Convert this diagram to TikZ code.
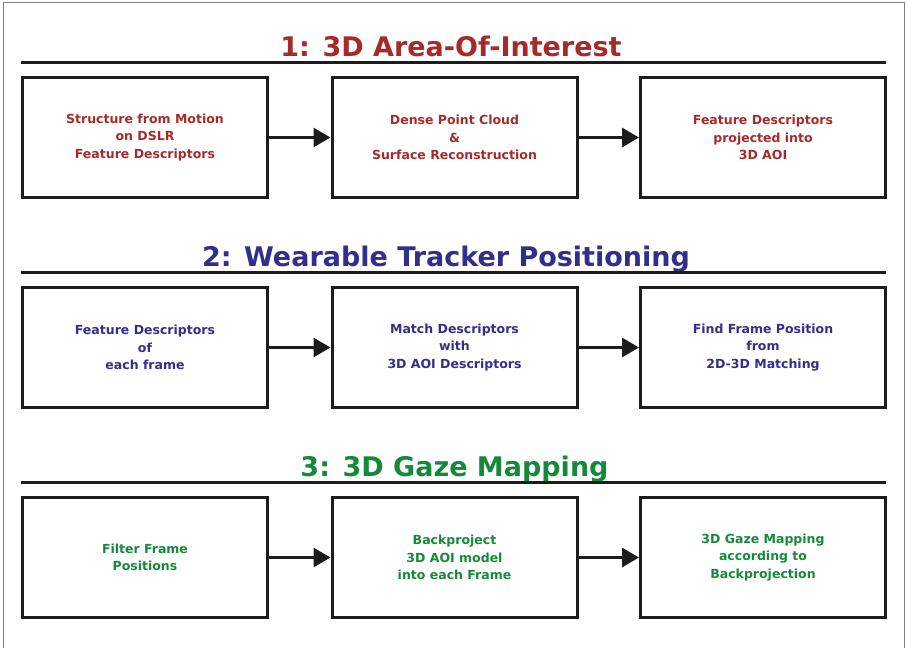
\documentclass[tikz,border=0pt]{standalone}
\usepackage{fontspec}
\setmainfont{DejaVu Sans}
\usetikzlibrary{arrows.meta}
\definecolor{cred}{RGB}{166,42,42}
\definecolor{cblue}{RGB}{50,46,140}
\definecolor{cgreen}{RGB}{20,137,58}
\definecolor{boxline}{RGB}{28,28,28}
\tikzset{
  stepbox/.style={draw=boxline, line width=3pt, minimum width=245pt, minimum height=120pt,
    inner sep=0pt, align=center, font=\bfseries\fontsize{12.5}{17.5}\selectfont},
  sectitle/.style={anchor=base, inner sep=0pt, font=\bfseries\fontsize{27}{32}\selectfont},
  secline/.style={line width=3pt, draw=boxline},
  flow/.style={line width=3pt, draw=boxline, -{Triangle[length=17pt,width=19pt]}},
  frameline/.style={draw=gray, line width=1pt}
}
\begin{document}
\begin{tikzpicture}[x=1pt,y=-1pt]
\useasboundingbox (0,0) rectangle (906,648);
% outer frame (open at bottom)
\draw[frameline] (3.5,648) -- (3.5,2.5) -- (904.5,2.5) -- (904.5,648);

% Section 1
\node[sectitle, text=cred] (t1) at (451,56.5) {1: 3D Area-Of-Interest};
\coordinate (l1a) at (21,62);
\coordinate (l1b) at (886,62);
\draw[secline] (l1a) -- (l1b);
\node[stepbox, text=cred] (a1) at (145,137.5) {Structure from Motion\\on DSLR\\Feature Descriptors};
\node[stepbox, text=cred] (a2) at (454.5,137.5) {Dense Point Cloud\\\&\\Surface Reconstruction};
\node[stepbox, text=cred] (a3) at (763,137.5) {Feature Descriptors\\projected into\\3D AOI};
\draw[flow] (a1.east) -- (a2.west);
\draw[flow] (a2.east) -- (a3.west);

% Section 2
\node[sectitle, text=cblue] (t2) at (446,266.5) {2: Wearable Tracker Positioning};
\coordinate (l2a) at (21,272);
\coordinate (l2b) at (886,272);
\draw[secline] (l2a) -- (l2b);
\node[stepbox, text=cblue] (b1) at (145,347.5) {Feature Descriptors\\of\\each frame};
\node[stepbox, text=cblue] (b2) at (454.5,347.5) {Match Descriptors\\with\\3D AOI Descriptors};
\node[stepbox, text=cblue] (b3) at (763,347.5) {Find Frame Position\\from\\2D-3D Matching};
\draw[flow] (b1.east) -- (b2.west);
\draw[flow] (b2.east) -- (b3.west);

% Section 3
\node[sectitle, text=cgreen] (t3) at (454.5,476.5) {3: 3D Gaze Mapping};
\coordinate (l3a) at (21,482);
\coordinate (l3b) at (886,482);
\draw[secline] (l3a) -- (l3b);
\node[stepbox, text=cgreen] (c1) at (145,557.5) {Filter Frame\\Positions};
\node[stepbox, text=cgreen] (c2) at (454.5,557.5) {Backproject\\3D AOI model\\into each Frame};
\node[stepbox, text=cgreen] (c3) at (763,557.5) {3D Gaze Mapping\\according to\\Backprojection};
\draw[flow] (c1.east) -- (c2.west);
\draw[flow] (c2.east) -- (c3.west);
\end{tikzpicture}
\end{document}
